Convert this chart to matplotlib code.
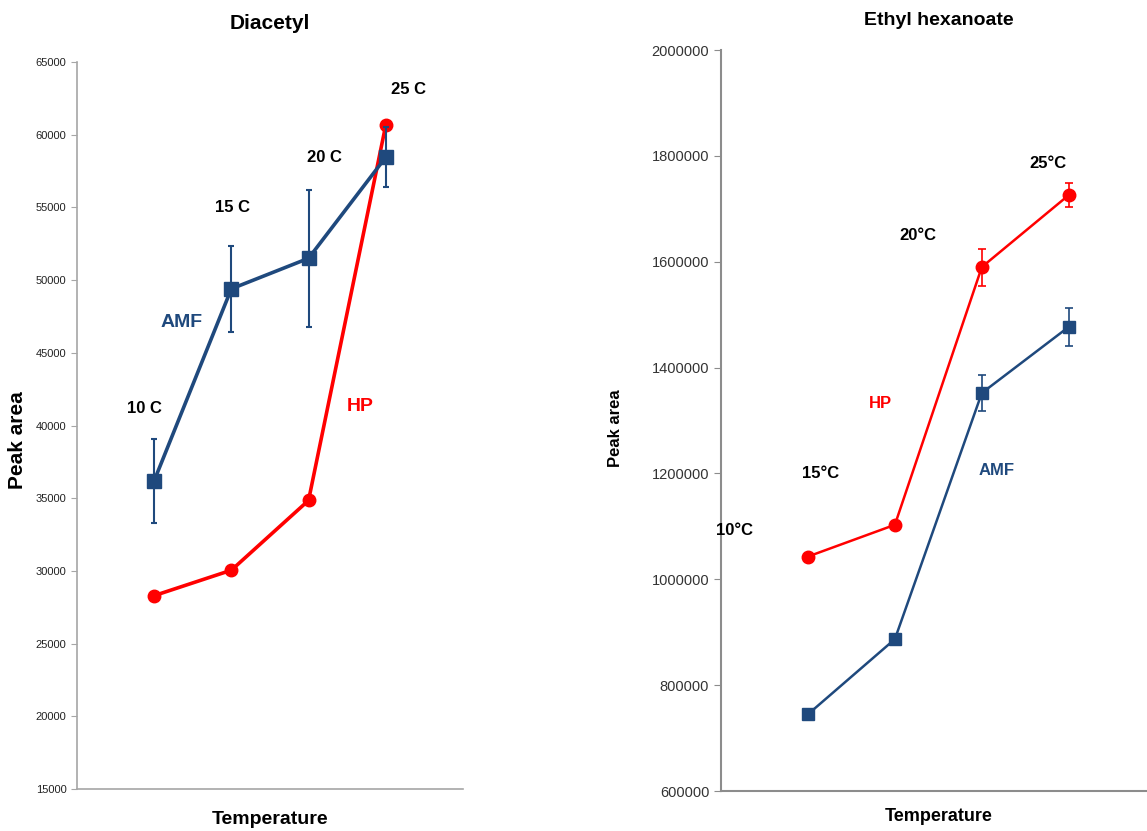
import numpy as np
import matplotlib
matplotlib.use("Agg")
import matplotlib.pyplot as plt
from matplotlib.ticker import FormatStrFormatter

plt.rcParams['font.family'] = ['Liberation Sans', 'DejaVu Sans']

# --- data ---
temps = ["10 C", "15 C", "20 C", "25 C"]
temps_deg = ["10°C", "15°C", "20°C", "25°C"]

diacetyl_amf = [36200, 49400, 51500, 58450]
diacetyl_amf_err = [2900, 2950, 4700, 2050]
diacetyl_hp = [28300, 30050, 34850, 60650]

ethyl_hp = [1043000, 1103000, 1590000, 1726000]
ethyl_hp_err = [0, 0, 35000, 23000]
ethyl_amf = [745000, 887000, 1352000, 1477000]
ethyl_amf_err = [0, 0, 34000, 36000]

BLUE = '#1F497D'
RED = '#FF0000'
x = np.arange(1, 5)

fig = plt.figure(figsize=(11.47, 8.31), dpi=100)

# --- Diacetyl ---
ax1 = fig.add_axes([0.0671, 0.0505, 0.3365, 0.8749])
ax1.plot(x, diacetyl_hp, color=RED, lw=2.6, marker='o', ms=9, zorder=3)
ax1.errorbar(x, diacetyl_amf, yerr=diacetyl_amf_err, color=BLUE, lw=2.6,
             marker='s', ms=10, elinewidth=1.5, capsize=2.5, capthick=1.5, zorder=4)
ax1.set_xlim(0, 5)
ax1.set_ylim(15000, 65000)
ax1.set_yticks(np.arange(15000, 65001, 5000))
ax1.set_xticks([])
for s in ['top', 'right']:
    ax1.spines[s].set_visible(False)
for s in ['left', 'bottom']:
    ax1.spines[s].set_color('#A6A6A6')
    ax1.spines[s].set_linewidth(1.2)
ax1.tick_params(axis='y', labelsize=8, length=4, color='#A6A6A6', labelcolor='#222222')
ax1.set_title("Diacetyl", fontsize=15, fontweight='bold', pad=24)
ax1.set_ylabel("Peak area", fontsize=15, fontweight='bold')
ax1.yaxis.set_label_coords(-0.13, 0.48)
ax1.set_xlabel("Temperature", fontsize=14, fontweight='bold', labelpad=16)

label_pos1 = [(0.87, 41200), (2.02, 55000), (3.21, 58450), (4.3, 63100)]
for (lx, ly), t in zip(label_pos1, temps):
    ax1.text(lx, ly, t, fontsize=12, fontweight='bold', ha='center', va='center')
ax1.text(1.35, 47100, "AMF", fontsize=14, fontweight='bold', color=BLUE, ha='center', va='center')
ax1.text(3.67, 41300, "HP", fontsize=14, fontweight='bold', color=RED, ha='center', va='center')

# --- Ethyl hexanoate ---
ax2 = fig.add_axes([0.6286, 0.0481, 0.379, 0.8917])
ax2.errorbar(x, ethyl_hp, yerr=ethyl_hp_err, color=RED, lw=1.8,
             marker='o', ms=9, elinewidth=1.2, capsize=3, capthick=1.2, zorder=3)
ax2.errorbar(x, ethyl_amf, yerr=ethyl_amf_err, color=BLUE, lw=1.8,
             marker='s', ms=9, elinewidth=1.2, capsize=3, capthick=1.2, zorder=4)
ax2.set_xlim(0, 5)
ax2.set_ylim(600000, 2000000)
ax2.set_yticks(np.arange(600000, 2000001, 200000))
ax2.yaxis.set_major_formatter(FormatStrFormatter('%d'))
ax2.set_xticks([])
for s in ['top', 'right']:
    ax2.spines[s].set_visible(False)
for s in ['left', 'bottom']:
    ax2.spines[s].set_color('#8C8C8C')
    ax2.spines[s].set_linewidth(1.5)
ax2.tick_params(axis='y', labelsize=10.5, length=5, color='#8C8C8C', labelcolor='#333333')
ax2.set_title("Ethyl hexanoate", fontsize=14, fontweight='bold', pad=18)
ax2.set_ylabel("Peak area", fontsize=12, fontweight='bold')
ax2.yaxis.set_label_coords(-0.225, 0.49)
ax2.set_xlabel("Temperature", fontsize=13, fontweight='bold', labelpad=12)

label_pos2 = [(0.15, 1093000), (1.14, 1199000), (2.26, 1649000), (3.76, 1786000)]
for (lx, ly), t in zip(label_pos2, temps_deg):
    ax2.text(lx, ly, t, fontsize=12, fontweight='bold', ha='center', va='center')
ax2.text(1.83, 1333000, "HP", fontsize=12, fontweight='bold', color=RED, ha='center', va='center')
ax2.text(3.17, 1205000, "AMF", fontsize=12, fontweight='bold', color=BLUE, ha='center', va='center')

fig.savefig("out.png", dpi=100)
